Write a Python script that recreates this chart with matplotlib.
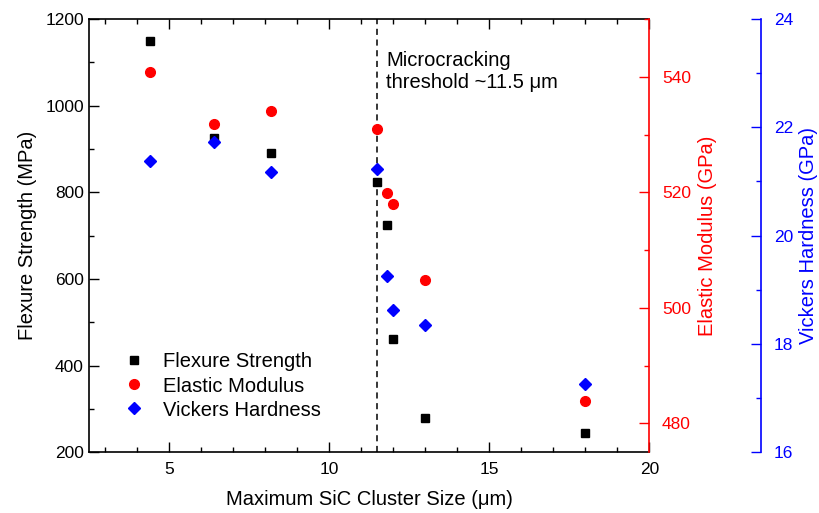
import matplotlib.pyplot as plt
from matplotlib.lines import Line2D
from matplotlib.ticker import MultipleLocator

plt.rcParams["font.family"] = ["Liberation Sans", "DejaVu Sans"]
plt.rcParams["font.size"] = 12.5

# maximum SiC cluster size (um)
cluster_size = [4.4, 6.4, 8.2, 11.5, 11.8, 12.0, 13.0, 18.0]
flexure_strength = [1150, 926, 891, 824, 724, 461, 280, 245]          # MPa
elastic_modulus = [540.9, 531.9, 534.0, 530.9, 519.9, 518.0, 504.9, 483.9]  # GPa
vickers_hardness = [21.37, 21.72, 21.18, 21.23, 19.26, 18.63, 18.35, 17.27]  # GPa
threshold = 11.5

RED = "#ff0000"
BLUE = "#0000ff"
LABEL_FS = 14.5

fig = plt.figure(figsize=(8.19, 5.13), dpi=100)
ax = fig.add_axes([88.7 / 819, 1 - 452.3 / 513, (649.3 - 88.7) / 819, (452.3 - 19) / 513])
ax_e = ax.twinx()
ax_h = ax.twinx()
ax_h.spines["right"].set_position(("axes", 1.2))

ax.plot(cluster_size, flexure_strength, "s", color="black", ms=6.2, ls="none")
ax_e.plot(cluster_size, elastic_modulus, "o", color=RED, ms=7, ls="none")
ax_h.plot(cluster_size, vickers_hardness, "D", color=BLUE, ms=6.5, ls="none")

ax.axvline(threshold, color="black", ls=(0, (4, 3)), lw=1.1)
ax.text(11.78, 1079, "Microcracking\nthreshold ~11.5 μm", fontsize=LABEL_FS,
        va="center", ha="left", linespacing=1.15)

ax.set_xlim(2.5, 20)
ax.set_ylim(200, 1200)
ax_e.set_ylim(475, 550)
ax_h.set_ylim(16, 24)

ax.xaxis.set_major_locator(MultipleLocator(5))
ax.xaxis.set_minor_locator(MultipleLocator(1))
ax.yaxis.set_major_locator(MultipleLocator(200))
ax.yaxis.set_minor_locator(MultipleLocator(100))
ax_e.yaxis.set_major_locator(MultipleLocator(20))
ax_e.yaxis.set_minor_locator(MultipleLocator(10))
ax_h.yaxis.set_major_locator(MultipleLocator(2))
ax_h.yaxis.set_minor_locator(MultipleLocator(1))

ax.tick_params(axis="x", which="both", direction="in", top=True)
ax.tick_params(axis="y", which="both", direction="in", right=False)
ax.tick_params(which="major", length=7, width=1)
ax.tick_params(which="minor", length=3.5, width=1)
ax.tick_params(axis="x", pad=7)

for a, c in [(ax_e, RED), (ax_h, BLUE)]:
    a.spines["right"].set_color(c)
    a.spines["right"].set_linewidth(1.2)
    a.tick_params(axis="y", which="both", direction="in", colors=c, pad=9)
    a.tick_params(axis="y", which="major", length=7, width=1)
    a.tick_params(axis="y", which="minor", length=3.5, width=1)
    for side in ("left", "top", "bottom"):
        a.spines[side].set_visible(False)

for side in ("left", "top", "bottom"):
    ax.spines[side].set_linewidth(1.2)
ax.spines["right"].set_visible(False)

ax.set_xlabel("Maximum SiC Cluster Size (μm)", fontsize=LABEL_FS, labelpad=9)
ax.set_ylabel("Flexure Strength (MPa)", fontsize=LABEL_FS, labelpad=6)
ax_e.set_ylabel("Elastic Modulus (GPa)", fontsize=LABEL_FS, color=RED, labelpad=5)
ax_h.set_ylabel("Vickers Hardness (GPa)", fontsize=LABEL_FS, color=BLUE, labelpad=4)

handles = [
    Line2D([], [], marker="s", color="black", ms=6, ls="none", label="Flexure Strength"),
    Line2D([], [], marker="o", color=RED, ms=7, ls="none", label="Elastic Modulus"),
    Line2D([], [], marker="D", color=BLUE, ms=6.5, ls="none", label="Vickers Hardness"),
]
ax_h.legend(handles=handles, loc="center left", bbox_to_anchor=(0.063, 0.153), frameon=False,
            fontsize=LABEL_FS, borderpad=0, borderaxespad=0, handlelength=1.0,
            handletextpad=0.95, labelspacing=0.25)

fig.savefig("out.png", dpi=100)
